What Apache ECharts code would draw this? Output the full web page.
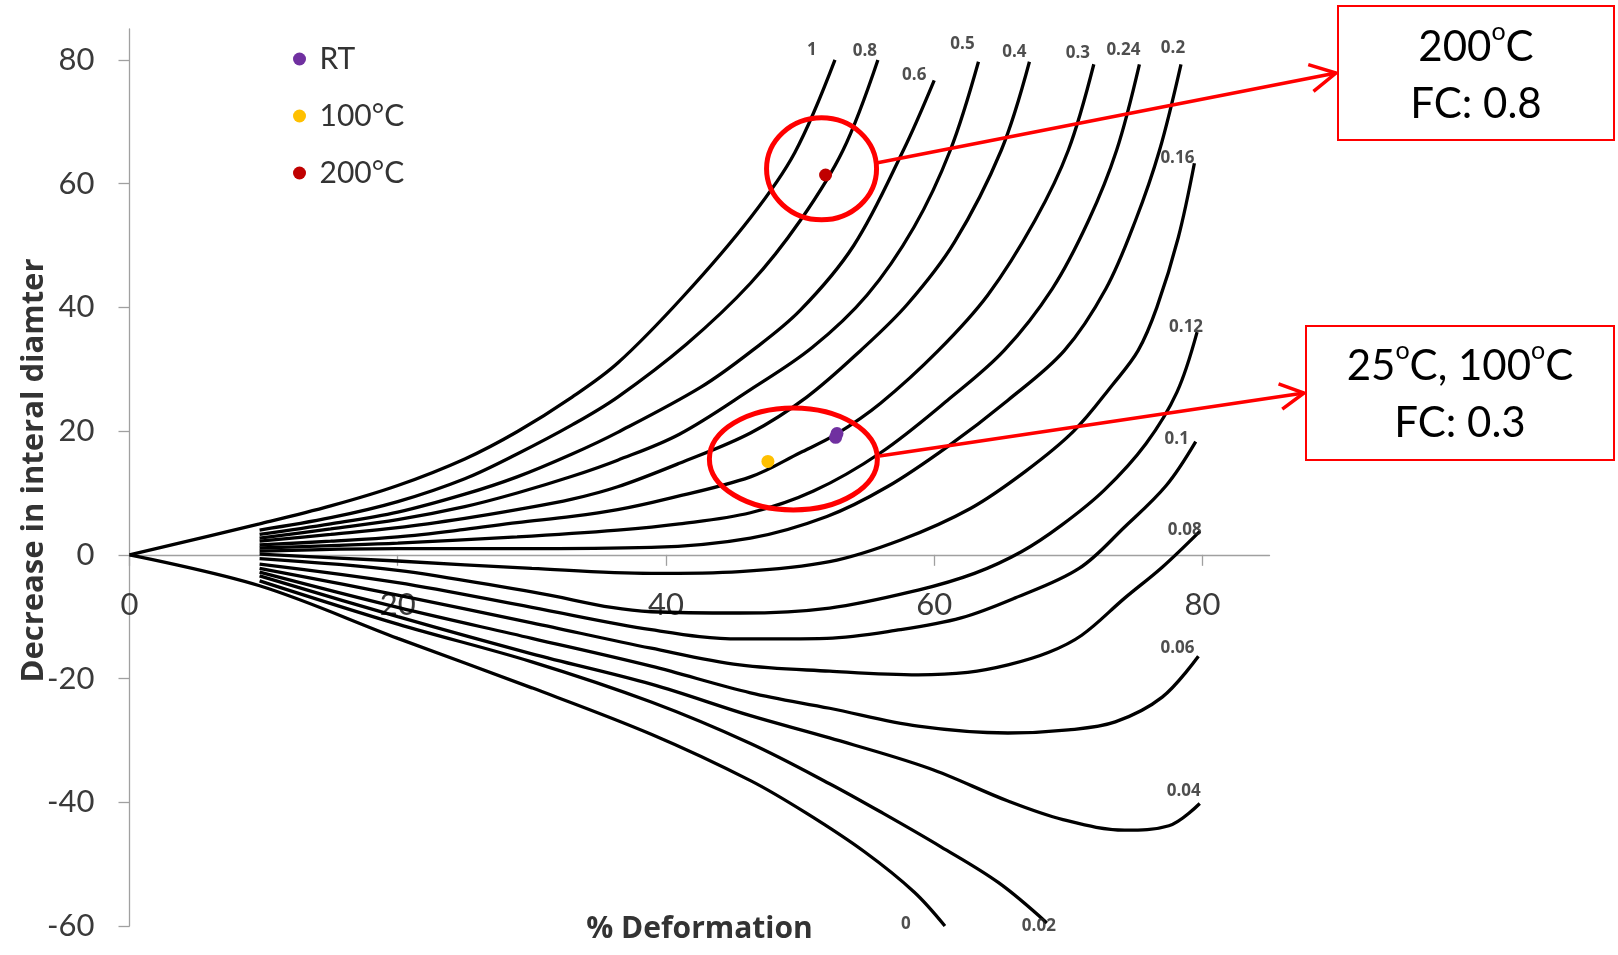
<!DOCTYPE html>
<html><head><meta charset="utf-8">
<script src="https://cdn.jsdelivr.net/npm/echarts@6/dist/echarts.min.js"></script>
<style>html,body{margin:0;padding:0;background:#fff}#c{width:1618px;height:955px}</style>
</head><body><div id="c"></div>
<script>
// ---------- data ----------
const xTicks = [0, 20, 40, 60, 80];
const yTicks = [-60, -40, -20, 0, 20, 40, 60, 80];
const frictionFactors = ['1','0.8','0.6','0.5','0.4','0.3','0.24','0.2','0.16','0.12','0.1','0.08','0.06','0.04','0.02','0'];

const curve_1    = [[0,0],[9.7,5],[15,7.9],[20,11.2],[25,15.5],[28.9,19.9],[33,25.5],[36.4,31],[41.3,41.8],[46.3,54.5],[49.6,65],[52.6,80]];
const curve_0_8  = [[9.7,4],[15,6],[20,8.6],[25,12.3],[28.9,16.3],[33,21],[36.4,25.5],[41.5,34],[46.3,43.9],[50,54],[53.2,65.4],[55.8,80]];
const curve_0_6  = [[9.7,3.3],[15,5],[20,6.9],[25,9.8],[28.9,12.6],[33,16.3],[36.4,19.8],[42.6,27.1],[46.3,32.8],[50,39.5],[54,50],[57.7,65.4],[60,76.7]];
const curve_0_5  = [[9.7,2.7],[15,4.2],[20,5.7],[25,7.8],[28.9,10],[33,12.7],[36.4,15.3],[41,19.5],[46.3,26.7],[50.9,33.5],[55,42],[58.5,53],[61.2,65.4],[63.3,79.7]];
const curve_0_4  = [[9.7,2.2],[15,3.3],[20,4.4],[25,5.9],[28.9,7.3],[33,9],[36.4,11],[41,14.8],[46.3,19.7],[50.5,25.5],[54.5,33],[58,40.5],[61.5,50.5],[65,65.4],[67.1,79.7]];
const curve_0_3  = [[9.7,1.6],[15,2.2],[20,2.9],[25,4.1],[28.9,5.2],[33,6.2],[36.4,7.3],[40,9],[46.3,12.6],[50,16.5],[52.7,19.5],[56,24.5],[60.3,33],[64,42],[67.5,54],[70,65.4],[71.9,79.3]];
const curve_0_24 = [[9.7,1.1],[15,1.5],[20,1.9],[28.9,2.9],[36.4,4],[41,5],[46.3,6.8],[51,10.3],[56,16.5],[61,25],[65.2,33],[68.8,43],[71.5,54],[73.6,65.4],[75.3,79.3]];
const curve_0_2  = [[9.7,0.6],[20,1],[28.9,1],[38.9,1.2],[46.3,2.7],[52,6.2],[56.5,11],[61,17.5],[65.5,25],[69.7,33],[72.8,43],[75,54],[76.8,65.4],[78.4,79.3]];
const curve_0_16 = [[9.7,0.1],[20,-1],[30,-2.2],[38.9,-3],[45.5,-2.7],[52.2,-1.1],[57.5,2.4],[62.7,7.5],[66.8,13.5],[70.4,20],[73.3,27.5],[75.2,33],[76.6,40],[78.2,51.3],[79.4,63.3]];
const curve_0_12 = [[9.7,-0.6],[20,-2.5],[30,-6],[38.9,-9.2],[45.5,-9.4],[52.2,-8.6],[58.8,-5.7],[63,-3],[66.5,0.5],[69.5,4.8],[72.7,10.5],[75.8,18],[78.1,26.3],[79.6,36]];
const curve_0_1  = [[9.7,-1.5],[20,-4.5],[30,-8.5],[38.9,-12.1],[45.5,-13.6],[52,-13.5],[57.5,-12.1],[62,-10.2],[66,-7],[70.8,-2.2],[74.2,4.5],[77.3,11.2],[79.5,18.3]];
const curve_0_08 = [[9.7,-2.2],[20,-6.5],[30,-11],[38.9,-15.1],[45.5,-17.8],[52.2,-18.8],[58.8,-19.4],[62.5,-19],[65.5,-17.8],[68.5,-15.8],[71,-13],[74.2,-7],[77,-2],[79.8,3.8]];
const curve_0_06 = [[9.7,-2.8],[20,-8.5],[30,-13.5],[38.9,-18],[46.3,-22.3],[52.2,-24.8],[58.8,-27.7],[65.5,-28.8],[70,-28.3],[73.5,-27],[77,-23],[79.7,-16.4]];
const curve_0_04 = [[9.7,-3.4],[20,-10],[30,-16],[38.9,-20.9],[46.3,-26],[52.2,-29.6],[59.6,-34.5],[65.5,-39.8],[69.6,-42.8],[74.2,-44.5],[77.5,-43.8],[79.8,-40.2]];
const curve_0_02 = [[9.7,-4.2],[20,-11.2],[30,-17.3],[38.9,-23.8],[46.3,-30.5],[52.2,-37],[56.2,-41.8],[60.5,-47.2],[64.8,-53],[68.4,-59.5]];
const curve_0    = [[0,0],[9.7,-5],[20,-13.5],[30,-21.5],[38.9,-29],[46.3,-36.5],[50.5,-41.8],[54.8,-48],[58.5,-54.5],[60.8,-60]];

const rtPoints   = [[52.75,19.6],[52.65,19.0]];
const c100Points = [[47.6,15.1]];
const c200Points = [[51.9,61.4]];

// annotation anchors (data space)
const ellipse200Center = [51.6, 62.4];
const ellipseRTCenter  = [49.5, 15.5];

// ---------- styles ----------
const curves = [curve_1, curve_0_8, curve_0_6, curve_0_5, curve_0_4, curve_0_3, curve_0_24, curve_0_2,
                curve_0_16, curve_0_12, curve_0_1, curve_0_08, curve_0_06, curve_0_04, curve_0_02, curve_0];
const labelOffsets = [[-23,-10],[-13,-9],[-20,-5],[-16,-18],[-15,-10],[-16,-11],[-16,-14],[-8,-16],
                      [-17,-5],[-11,-5],[-19,-2],[-15,-1],[-21,-8],[-16,-12],[-8,3],[-39,-2]];
const FONT = 'Lato';
const axisGray = '#a0a0a0';

const lineSeries = curves.map((c, i) => ({
  type: 'line', name: 'FC ' + frictionFactors[i], data: c, smooth: 0.35, showSymbol: false, symbol: 'none',
  lineStyle: { color: '#000', width: 3.3 }, silent: true, z: 2
}));

const endLabelSeries = {
  type: 'scatter', name: 'curve labels', symbolSize: 1, silent: true, z: 3,
  itemStyle: { color: 'rgba(0,0,0,0)' },
  label: { show: true, position: 'inside', formatter: '{b}', fontFamily: 'Open Sans', fontWeight: 'bold', fontSize: 17, color: '#222' },
  data: curves.map((c, i) => ({ name: frictionFactors[i], value: c[c.length - 1], label: { offset: labelOffsets[i] } }))
};

const scatter = (name, data, color) => ({
  type: 'scatter', name, data, symbol: 'circle', symbolSize: 13, itemStyle: { color, opacity: 1 }, z: 5
});

const option = {
  animation: false,
  backgroundColor: '#fff',
  grid: { left: 129.5, right: 348.5, top: 29, bottom: 29, containLabel: false, outerBoundsMode: 'none' },
  legend: {
    data: ['RT', '100°C', '200°C'], orient: 'vertical', left: 288, top: 39,
    icon: 'circle', itemWidth: 30, itemHeight: 13, itemGap: 27,
    textStyle: { fontFamily: FONT, fontSize: 30, color: '#333' }
  },
  xAxis: {
    type: 'value', min: 0, max: 85,
    axisLine: { show: true, onZero: false, lineStyle: { color: axisGray, width: 1.3 } },
    axisTick: { show: true, customValues: xTicks, length: 11, lineStyle: { color: axisGray, width: 1.3 } },
    axisLabel: { show: true, customValues: xTicks, margin: 35, fontFamily: FONT, fontSize: 31, color: '#3a3a3a' },
    splitLine: { show: false },
    name: '% Deformation', nameLocation: 'middle', nameGap: 360, nameMoveOverlap: false,
    nameTextStyle: { fontFamily: 'Open Sans', fontWeight: 'bold', fontSize: 30, color: '#333' }
  },
  yAxis: {
    type: 'value', min: -60, max: 85,
    axisLine: { show: true, onZero: false, lineStyle: { color: axisGray, width: 1.3 } },
    axisTick: { show: true, customValues: yTicks, length: 11, lineStyle: { color: axisGray, width: 1.3 } },
    axisLabel: { show: true, customValues: yTicks, margin: 35, fontFamily: FONT, fontSize: 31, color: '#3a3a3a' },
    splitLine: { show: false },
    name: 'Decrease in interal diamter', nameLocation: 'middle', nameGap: 80, nameRotate: 90, nameMoveOverlap: false,
    nameTextStyle: { fontFamily: 'Open Sans', fontWeight: 'bold', fontSize: 31, color: '#333', padding: [0, 0, 0, 14] }
  },
  series: [...lineSeries, endLabelSeries,
    scatter('RT', rtPoints, '#7030A0'),
    scatter('100°C', c100Points, '#FFC000'),
    scatter('200°C', c200Points, '#C00000')]
};

const chart = echarts.init(document.getElementById('c'), null, { renderer: 'canvas' });
chart.setOption(option);

// move the x axis onto y = 0 (offset measured from the grid bottom)
function px(p) { return chart.convertToPixel({ gridIndex: 0 }, p); }
const zeroY = px([0, 0])[1];
const bottomY = px([0, -60])[1];
chart.setOption({ xAxis: { offset: -(bottomY - zeroY) } });

// ---------- annotations ----------
function arrow(x1, y1, x2, y2, head) {
  const a = Math.atan2(y2 - y1, x2 - x1), s = 28 * Math.PI / 180;
  return [
    { type: 'line', z: 100, shape: { x1, y1, x2, y2 }, style: { stroke: '#ff0000', lineWidth: 3.5 } },
    { type: 'polyline', z: 100, shape: { points: [
        [x2 - head * Math.cos(a - s), y2 - head * Math.sin(a - s)], [x2, y2],
        [x2 - head * Math.cos(a + s), y2 - head * Math.sin(a + s)]] },
      style: { stroke: '#ff0000', lineWidth: 3.5, fill: 'none' } }
  ];
}
const e1 = px(ellipse200Center), e2 = px(ellipseRTCenter);
const rich = {
  n: { fontFamily: FONT, fontSize: 42, fill: '#000', lineHeight: 57 },
  s: { fontFamily: FONT, fontSize: 25, fill: '#000', verticalAlign: 'top', lineHeight: 42 }
};
chart.setOption({
  graphic: [
    { type: 'ellipse', z: 100, shape: { cx: e1[0], cy: e1[1], rx: 55, ry: 51 }, style: { fill: 'none', stroke: '#ff0000', lineWidth: 5 } },
    { type: 'ellipse', z: 100, shape: { cx: e2[0], cy: e2[1], rx: 84, ry: 51 }, style: { fill: 'none', stroke: '#ff0000', lineWidth: 5 } },
    ...arrow(e1[0] + 56, e1[1] - 6, 1336, 73, 29),
    ...arrow(e2[0] + 86, e2[1] - 3, 1304, 393, 27),
    { type: 'rect', z: 100, shape: { x: 1338, y: 6, width: 276, height: 134 }, style: { fill: '#fff', stroke: '#ff0000', lineWidth: 2 } },
    { type: 'rect', z: 100, shape: { x: 1306, y: 326, width: 308, height: 134 }, style: { fill: '#fff', stroke: '#ff0000', lineWidth: 2 } },
    { type: 'text', z: 101, style: { x: 1476, y: 76, align: 'center', verticalAlign: 'middle',
        text: '{n|200}{s|o}{n|C}\n{n|FC: 0.8}', rich } },
    { type: 'text', z: 101, style: { x: 1460, y: 395, align: 'center', verticalAlign: 'middle',
        text: '{n|25}{s|o}{n|C, 100}{s|o}{n|C}\n{n|FC: 0.3}', rich } }
  ]
});
</script>
</body></html>
